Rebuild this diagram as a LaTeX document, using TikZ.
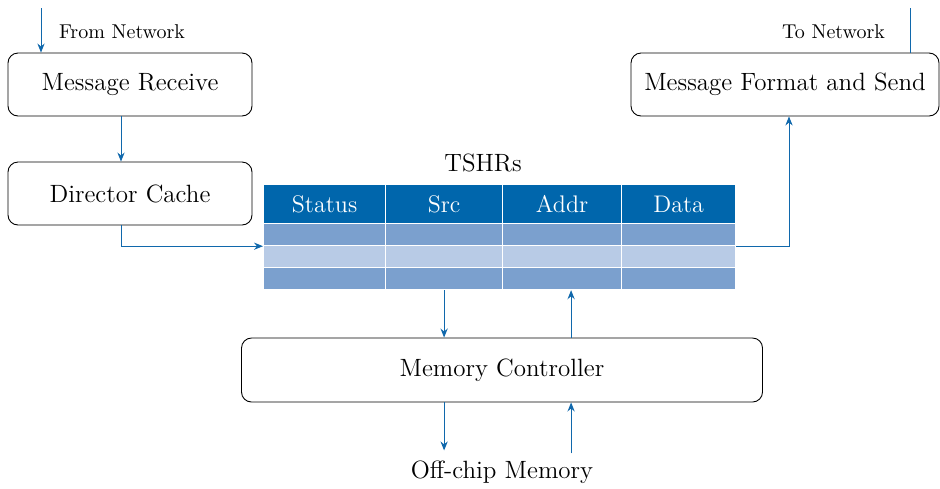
\documentclass[tikz,border=0pt]{standalone}
\usepackage{xcolor}
\usepackage{tikz}
\usetikzlibrary{arrows.meta,positioning,calc}
\definecolor{tshrblue}{RGB}{0,102,172}
\definecolor{rowdark}{RGB}{123,160,206}
\definecolor{rowlight}{RGB}{184,203,230}
\definecolor{arrblue}{RGB}{16,104,172}

\begin{document}
\begin{tikzpicture}[
  x=0.5pt, y=-0.5pt,
  unit/.style={rectangle, rounded corners=5pt, draw=black, line width=0.45pt,
               minimum height=31.5pt, font=\fontsize{12.5}{14}\selectfont},
  lbl/.style={font=\fontsize{10}{12}\selectfont},
  hcell/.style={rectangle, draw=white, line width=0.6pt, fill=tshrblue, text=white,
                inner sep=0pt, minimum height=19.5pt, anchor=north west,
                font=\fontsize{12}{14}\selectfont},
  rcell/.style={rectangle, draw=white, line width=0.6pt, inner sep=0pt,
                minimum height=11pt, anchor=north west},
  arr/.style={-{Stealth[length=4.5pt,width=3.6pt]}, line width=0.5pt, draw=arrblue},
]
\useasboundingbox (0,0) rectangle (940,488);

\node[unit, minimum width=122pt] (mr) at (130,84.5) {Message Receive};
\node[unit, minimum width=122pt] (dc) at (130,193.5) {Director Cache};
\node[unit, minimum width=154pt] (mfs) at (785,84.5) {Message Format and Send};
\node[unit, minimum width=260.5pt, minimum height=32pt] (mc) at (502,370) {Memory Controller};
\node[font=\fontsize{12.5}{14}\selectfont] (ocm) at (502,472) {Off-chip Memory};

% table of TSHRs
\foreach \i/\name/\xa/\xb in {1/Status/263/385, 2/Src/385/502, 3/Addr/502/621, 4/Data/621/735} {
  \node[hcell, minimum width={(\xb-\xa)*0.5pt}] (h\i) at (\xa,184) {\name};
  \node[rcell, fill=rowdark, minimum width={(\xb-\xa)*0.5pt}] (c1\i) at (\xa,223) {};
  \node[rcell, fill=rowlight, minimum width={(\xb-\xa)*0.5pt}] (c2\i) at (\xa,245) {};
  \node[rcell, fill=rowdark, minimum width={(\xb-\xa)*0.5pt}] (c3\i) at (\xa,267) {};
}
\node[font=\fontsize{12.5}{14}\selectfont] (tshr) at (483,163) {TSHRs};

% network side
\coordinate (fn) at (41,8);
\coordinate (tn) at (910,8);
\node[lbl, anchor=west] (fnl) at (52,32) {From Network};
\node[lbl, anchor=east] (tnl) at (892,32) {To Network};
\draw[arr] (fn) -- (fn |- mr.north);
\draw[line width=0.5pt, draw=arrblue] (tn |- mfs.north) -- (tn);

\draw[arr] ([xshift=-4.5pt]mr.south) -- ([xshift=-4.5pt]dc.north);
\draw[arr] ([xshift=-4.5pt]dc.south) |- (c11.south west);
\draw[arr] (c14.south east) -| ([xshift=2pt]mfs.south);

% memory side
\draw[arr] (c32.south) -- (c32.south |- mc.north);
\draw[arr] ([xshift=4.5pt]c33.south |- mc.north) -- ([xshift=4.5pt]c33.south);
\draw[arr] (c32.south |- mc.south) -- ++(0,48);
\draw[arr] ([xshift=4.5pt]c33.south |- mc.south) ++(0,51) -- ([xshift=4.5pt]c33.south |- mc.south);
\end{tikzpicture}
\end{document}
